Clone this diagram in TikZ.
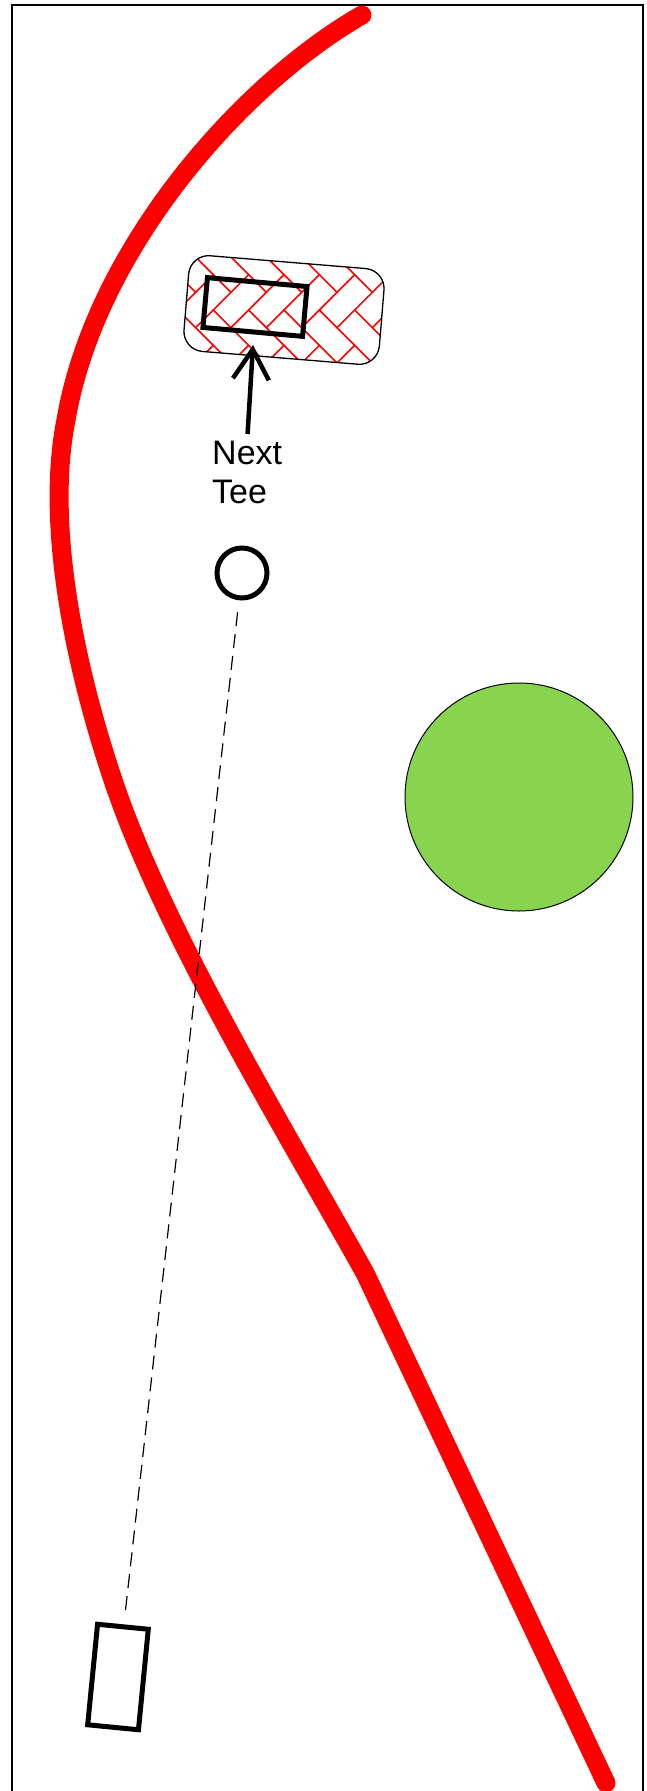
\documentclass[tikz,border=0pt]{standalone}
\usepackage{fontspec}
\setmainfont{Liberation Sans}
\usetikzlibrary{arrows.meta}
\definecolor{greencol}{RGB}{136,212,79}
\begin{document}
\begin{tikzpicture}[x=1pt, y=-1pt,
    fairway/.style={draw=red, line width=19pt, line cap=round},
    tee marker/.style={draw, line width=5pt, rectangle, inner sep=0pt},
    brickline/.style={draw=red, line width=1.3pt},
    pointer/.style={-{Straight Barb[length=30pt,width=36pt]}, line width=4.5pt},
    aimline/.style={dash pattern=on 14pt off 8pt, line width=1.2pt}]
    \clip (0,0) rectangle (646,1791);
    \useasboundingbox (0,0) rectangle (646,1791);

    % Frame
    \draw[line width=1.3pt] (12,5) rectangle (643,1810);

    % Fairway edge
    \draw[fairway] (362,15) .. controls (240,85) and (95,250) .. (66,420)
        .. controls (46,520) and (72,657) .. (112,777)
        .. controls (161.5,927) and (281,1123) .. (365,1273)
        -- (606,1783);

    % Next tee box (herringbone)
    \begin{scope}[shift={(284,310)}, rotate=-4.7]
        \begin{scope}
            \clip[rounded corners=20pt] (-98,-48) rectangle (98,48);
            \begin{scope}[rotate=4.7, rotate=45]
                \foreach \k in {-7,...,7}
                    \foreach \m in {-4,...,4} {
                        \draw[brickline] ({(\k+2*\m)*25},{(\k-2*\m)*25}) rectangle ++(50,25);
                        \draw[brickline] ({(\k+2*\m)*25+50},{(\k-2*\m)*25-25}) rectangle ++(25,50);
                    }
            \end{scope}
        \end{scope}
        \draw[rounded corners=20pt, line width=1.3pt] (-98,-48) rectangle (98,48);
    \end{scope}
    \node[tee marker, minimum width=100pt, minimum height=50pt, rotate=-5.1] (tee) at (255,307) {};

    % Label and arrow
    \node[anchor=north west, inner sep=0pt, align=left, font=\fontsize{34}{39}\selectfont] (nexttee) at (212,441) {Next\\Tee};
    \coordinate (teefront) at (253,345);
    \draw[pointer, shorten <=7pt] (nexttee.north) -- (teefront);

    % Ball, green and mat
    \node[draw, circle, line width=5pt, minimum size=50pt, inner sep=0pt] (ball) at (242,573) {};
    \node[draw, circle, fill=greencol, line width=1pt, minimum size=228pt, inner sep=0pt] (green) at (519,797) {};
    \node[tee marker, minimum width=51pt, minimum height=101pt, rotate=-5.6] (mat) at (118,1677) {};

    % Line of play
    \draw[aimline, shorten <=12pt, shorten >=12pt] (ball) -- (mat);
\end{tikzpicture}
\end{document}
